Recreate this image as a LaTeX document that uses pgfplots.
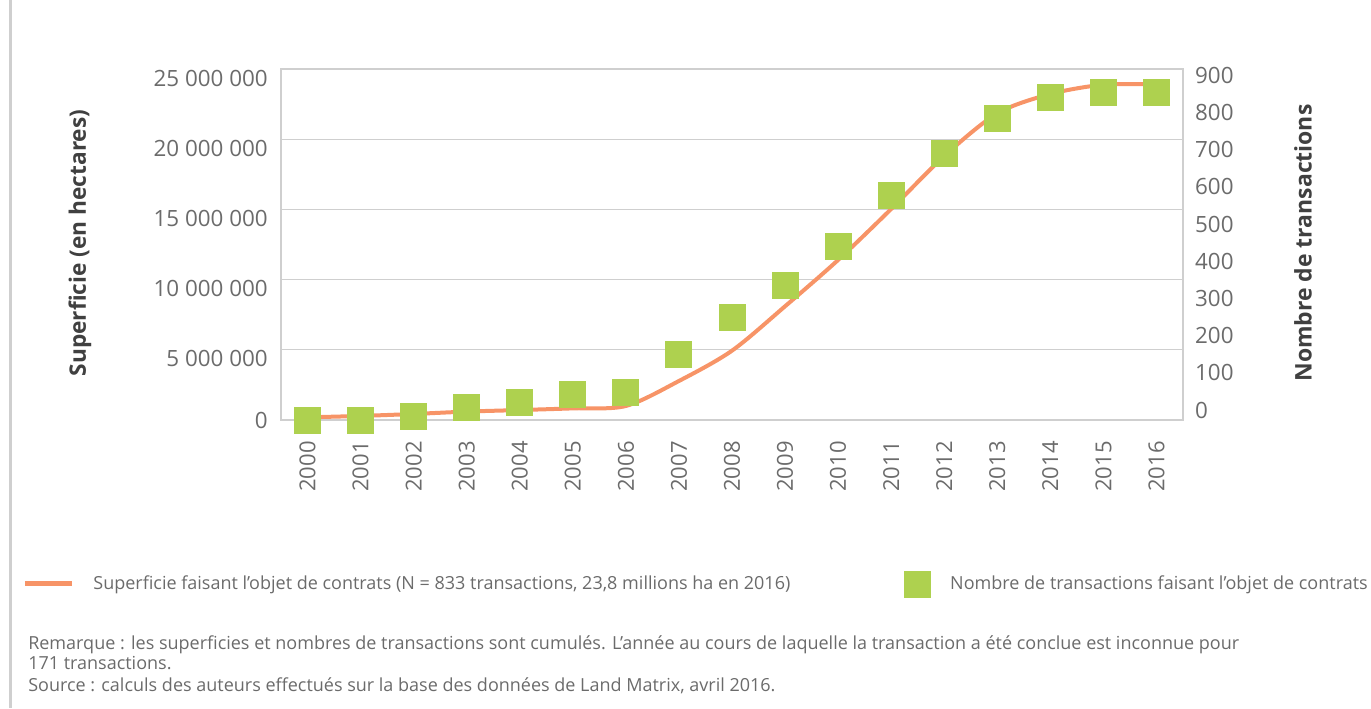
\documentclass[border=0pt]{standalone}
\usepackage{pgfplots}
\pgfplotsset{compat=1.18}
\usepackage{fontspec}
\setmainfont{Open Sans}
\definecolor{orangeL}{HTML}{F79467}
\definecolor{greenM}{HTML}{AED14F}
\definecolor{txt}{HTML}{6B6B6B}
\definecolor{ttl}{HTML}{404040}
\definecolor{gridc}{HTML}{CFCFCF}
\begin{document}
\begin{tikzpicture}
\useasboundingbox (0,0) rectangle (1028.25pt,-531pt);
\draw[gridc, line width=1.8pt] (8pt,0) -- (8pt,-531pt);
\begin{axis}[
  scale only axis, width=676.5pt, height=263.25pt,
  at={(210.75pt,-315pt)}, anchor=south west,
  xmin=-0.5, xmax=16.5, ymin=0, ymax=25000000,
  xtick={0,...,16},
  xticklabels={2000,2001,2002,2003,2004,2005,2006,2007,2008,2009,2010,2011,2012,2013,2014,2015,2016},
  x tick label style={rotate=90, anchor=east, xshift=-12.5pt, font=\fontsize{16.5}{16.5}\selectfont, text=txt},
  ytick={5000000,10000000,15000000,20000000,25000000},
  yticklabels={5 000 000,10 000 000,15 000 000,20 000 000,25 000 000},
  y tick label style={font=\fontsize{16.8}{16.8}\selectfont, text=txt, xshift=-6.4pt, yshift=-6.75pt},
  extra y ticks={0}, extra y tick labels={0},
  extra y tick style={grid=none, y tick label style={yshift=6.75pt}},
  ymajorgrids, grid style={gridc, line width=1pt},
  axis line style={gridc, line width=1pt},
  tick style={draw=none},
  scaled y ticks=false,
]
\addplot[orangeL, line width=3pt, smooth] coordinates {
(0,190000) (1,290000) (2,430000) (3,600000) (4,710000) (5,830000) (6,1000000)
(7,2780000) (8,4940000) (9,8100000) (10,11400000) (11,15030000) (12,18800000)
(13,21840000) (14,23220000) (15,23880000) (16,23900000)};
\end{axis}
\begin{axis}[
  scale only axis, width=676.5pt, height=263.25pt,
  at={(210.75pt,-315pt)}, anchor=south west,
  xmin=-0.5, xmax=16.5, ymin=0, ymax=900,
  axis x line=none, axis y line*=right,
  y axis line style={draw=none},
  ytick={25.6,121.0,216.4,311.8,407.2,502.6,598.0,693.4,788.8,884.2},
  yticklabels={0,100,200,300,400,500,600,700,800,900},
  y tick label style={font=\fontsize{16.8}{16.8}\selectfont, text=txt, xshift=5.6pt},
  tick style={draw=none},
  clip=false,
  legend columns=2,
  legend style={draw=none, fill=none, inner sep=0pt, at={(-0.287,-0.467)}, anchor=west,
    nodes={inner sep=0pt, text=txt, font=\fontsize{13.5}{13.5}\selectfont},
    /tikz/every odd column/.append style={column sep=14.5pt},
    /tikz/every even column/.append style={column sep=85.5pt}},
]
\addlegendimage{legend image code/.code={\draw[orangeL, line width=3.75pt] (0pt,0pt) -- (35pt,0pt);}}
\addlegendentry{Superficie faisant l’objet de contrats (N = 833 transactions, 23,8 millions ha en 2016)}
\addplot[greenM, only marks, mark=square*, mark size=9.75pt, mark options={fill=greenM, draw=greenM, line width=0pt},
  legend image code/.code={\fill[greenM] (0pt,-9.75pt) rectangle (19.5pt,9.75pt);}] coordinates {
(0,0) (1,0) (2,10) (3,31) (4,44) (5,65) (6,70) (7,168) (8,263) (9,345) (10,445)
(11,576) (12,683) (13,773) (14,827) (15,840) (16,840)};
\addlegendentry{Nombre de transactions faisant l’objet de contrats}
\end{axis}
\node[rotate=90, font=\bfseries\fontsize{17}{17}\selectfont, text=ttl] at (60pt,-182.25pt) {Superficie (en hectares)};
\node[rotate=90, font=\bfseries\fontsize{17.2}{17.2}\selectfont, text=ttl] at (977.25pt,-182.25pt) {Nombre de transactions};
\begin{scope}[every node/.style={anchor=base west, inner sep=0pt, text=txt, font=\fontsize{13.5}{13.5}\selectfont}]
\node at (21pt,-486.75pt) {Remarque : les superficies et nombres de transactions sont cumulés. L’année au cours de laquelle la transaction a été conclue est inconnue pour};
\node at (21pt,-501.75pt) {171 transactions.};
\node at (21pt,-518.25pt) {Source : calculs des auteurs effectués sur la base des données de Land Matrix, avril 2016.};
\end{scope}
\end{tikzpicture}
\end{document}
